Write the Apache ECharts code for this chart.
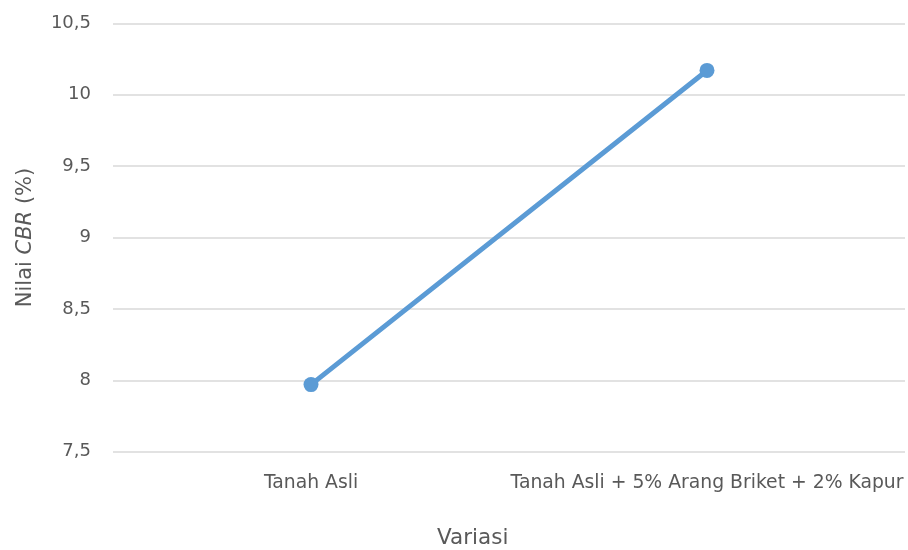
<!DOCTYPE html>
<html>
<head>
<meta charset="utf-8">
<script src="https://cdn.jsdelivr.net/npm/echarts@6/dist/echarts.min.js"></script>
<style>
  html, body { margin: 0; padding: 0; background: #fff; }
  #chart { width: 908px; height: 550px; }
</style>
</head>
<body>
<div id="chart"></div>
<script>
// CBR values per mix variation
const categories = ['Tanah Asli', 'Tanah Asli + 5% Arang Briket + 2% Kapur'];
const cbrValues = [7.97, 10.17];
const yTicks = { min: 7.5, max: 10.5, interval: 0.5 };

const FONT = '"DejaVu Sans", sans-serif';
const TEXT = '#595959';

const chart = echarts.init(document.getElementById('chart'));
chart.setOption({
  animation: false,
  grid: { left: 113, right: 3, top: 23.3, bottom: 98.3, containLabel: false, outerBoundsMode: 'none' },
  xAxis: {
    type: 'category',
    data: categories,
    boundaryGap: true,
    axisLine: { show: false },
    axisTick: { show: false },
    axisLabel: { interval: 0, color: TEXT, fontFamily: FONT, fontSize: 18.8, margin: 22 }
  },
  yAxis: {
    type: 'value',
    min: yTicks.min,
    max: yTicks.max,
    interval: yTicks.interval,
    axisLine: { show: false },
    axisTick: { show: false },
    splitLine: { lineStyle: { color: '#d9d9d9', width: 1.5 } },
    axisLabel: {
      color: TEXT, fontFamily: FONT, fontSize: 18, margin: 22,
      formatter: v => String(v).replace('.', ',')
    },
    name: '{a|Nilai }{b|CBR}{a| (%)}',
    nameLocation: 'middle',
    nameGap: 77,
    nameTextStyle: {
      rich: {
        a: { color: TEXT, fontFamily: FONT, fontSize: 21 },
        b: { color: TEXT, fontFamily: FONT, fontSize: 21, fontStyle: 'italic' }
      }
    }
  },
  graphic: [{
    type: 'text',
    left: 437,
    top: 527,
    style: { text: 'Variasi', fill: TEXT, font: '21.5px ' + FONT }
  }],
  series: [{
    type: 'line',
    data: cbrValues,
    symbol: 'circle',
    symbolSize: 15,
    lineStyle: { color: '#5b9bd5', width: 5, cap: 'round' },
    itemStyle: { color: '#5b9bd5' }
  }]
});
</script>
</body>
</html>
